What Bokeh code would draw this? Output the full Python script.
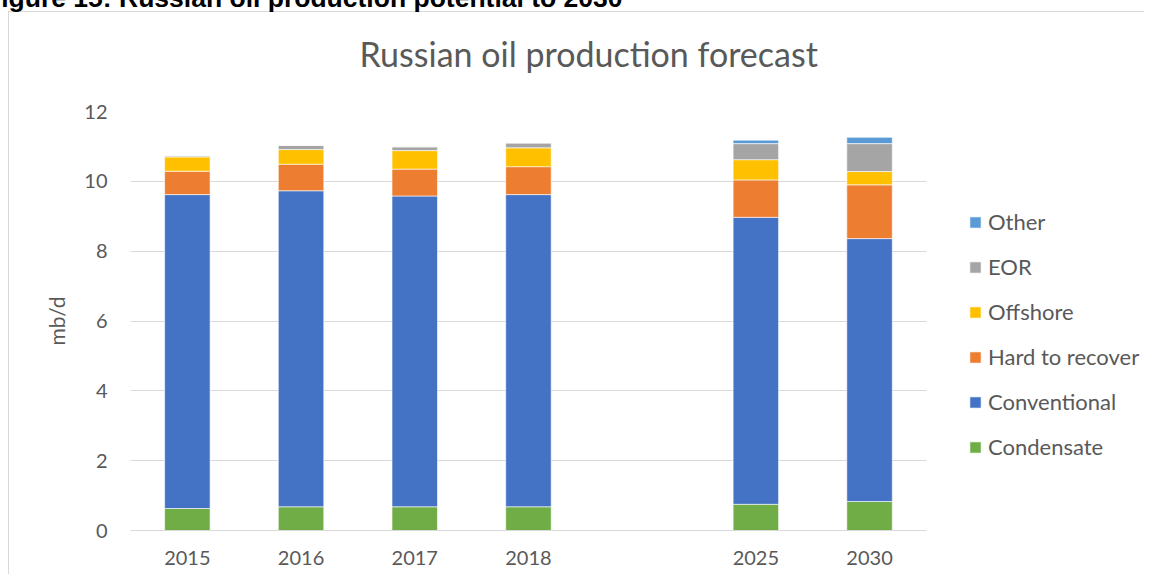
from bokeh.plotting import figure
from bokeh.models import (Legend, LegendItem, Title, ColumnDataSource,
                          Range1d, FixedTicker)
from bokeh.embed import file_html
from bokeh.resources import INLINE

# ---- data -------------------------------------------------------------
years = ["2015", "2016", "2017", "2018", "2025", "2030"]
condensate = [0.63, 0.68, 0.68, 0.68, 0.75, 0.83]
conventional = [8.99, 9.05, 8.90, 8.94, 8.22, 7.53]
hard_to_recover = [0.67, 0.76, 0.77, 0.80, 1.07, 1.54]
offshore = [0.41, 0.42, 0.53, 0.54, 0.58, 0.38]
eor = [0.03, 0.12, 0.11, 0.14, 0.46, 0.80]
other = [0.00, 0.00, 0.00, 0.00, 0.10, 0.18]
series_names = ["Condensate", "Conventional", "Hard to recover", "Offshore", "EOR", "Other"]
colors = ["#70AD47", "#4472C4", "#ED7D31", "#FFC000", "#A5A5A5", "#5B9BD5"]
y_ticks = [0, 2, 4, 6, 8, 10, 12]
# category slots on the axis, with an empty slot between 2018 and 2025
slots = years[:4] + [""] + years[4:]

FONT = "Lato"
GREY = "#595959"
LIGHT = "#d9d9d9"

xpos = [slots.index(y) for y in years]
src = ColumnDataSource(dict(x=xpos, Condensate=condensate, Conventional=conventional,
                            **{"Hard to recover": hard_to_recover}, Offshore=offshore,
                            EOR=eor, Other=other))

# layout (pixels): plot frame spans the canvas to the right so the legend fits in it
W, H = 1144, 594
FRAME_LEFT = 130
SLOT_PX = 113.7
x_lo = -0.5
x_hi_slots = len(slots) - 0.5
x_hi = x_lo + (W - FRAME_LEFT) / SLOT_PX

p = figure(x_range=Range1d(x_lo, x_hi), y_range=Range1d(0, 12),
           width=W, height=H, output_backend="svg", toolbar_location=None,
           min_border_left=FRAME_LEFT, min_border_right=0, min_border_top=128,
           min_border_bottom=44)
p.margin = (-20, 0, 0, 0)
# light chart-area border (left and top edges), drawn behind a transparent canvas
p.border_fill_color = None
p.background_fill_color = None
grad = f"linear-gradient({LIGHT}, {LIGHT})"
p.styles = {
    "background": (f"{grad} 8px 31px / 1px calc(100% - 31px) no-repeat, "
                   f"{grad} 8px 31px / calc(100% - 8px) 1px no-repeat, white"),
}

renderers = p.vbar_stack(series_names, x="x", width=0.4, source=src,
                         fill_color=colors, line_color="white", line_width=0.6)

# axes
p.yaxis.ticker = FixedTicker(ticks=y_ticks)
p.yaxis.axis_line_color = None
p.yaxis.major_tick_line_color = None
p.yaxis.minor_tick_line_color = None
p.yaxis.major_tick_in = 0
p.yaxis.major_tick_out = 0
p.yaxis.major_label_standoff = 23
p.yaxis.major_label_text_font = FONT
p.yaxis.major_label_text_font_size = "20px"
p.yaxis.major_label_text_color = GREY
p.yaxis.axis_label = "mb/d"
p.yaxis.axis_label_text_font = FONT
p.yaxis.axis_label_text_font_style = "normal"
p.yaxis.axis_label_text_font_size = "21px"
p.yaxis.axis_label_text_color = GREY
p.yaxis.axis_label_standoff = 12

p.xaxis.ticker = FixedTicker(ticks=list(range(len(slots))))
p.xaxis.major_label_overrides = {i: s for i, s in enumerate(slots)}
p.xaxis.bounds = (x_lo, x_hi_slots)
p.xaxis.axis_line_color = LIGHT
p.xaxis.major_tick_line_color = None
p.xaxis.minor_tick_line_color = None
p.xaxis.major_tick_in = 0
p.xaxis.major_tick_out = 0
p.xaxis.major_label_standoff = 20
p.xaxis.major_label_text_font = FONT
p.xaxis.major_label_text_font_size = "20px"
p.xaxis.major_label_text_color = GREY

p.xgrid.grid_line_color = None
p.ygrid.grid_line_color = LIGHT
g = p.ygrid[0]
if "cross_bounds" in g.properties():
    g.cross_bounds = (x_lo, x_hi_slots)
p.outline_line_color = None

# legend (top to bottom: reverse of stacking order)
items = [LegendItem(label=n, renderers=[r]) for n, r in zip(series_names, renderers)][::-1]
legend = Legend(items=items, location=(838, 70), border_line_color=None,
                background_fill_alpha=0, padding=0, margin=0, spacing=18,
                glyph_width=14, glyph_height=14, label_standoff=6,
                label_text_font=FONT, label_text_font_size="22px", label_text_color=GREY)
p.add_layout(legend, "center")

# document header (cut off at the top in the original) - outermost title
p.title = Title(text="Figure 15: Russian oil production potential to 2030",
                align="left", offset=-145.5, standoff=0, vertical_align="bottom",
                text_font="Liberation Sans", text_font_style="bold",
                text_font_size="26.5px", text_color="black")

# chart title, next to the plot area
p.add_layout(Title(text="Russian oil production forecast", align="left", offset=229,
                   standoff=0, vertical_align="bottom", text_font=FONT,
                   text_font_size="34px", text_font_style="normal", text_color=GREY,
                   padding=dict(left=0, right=0, top=18, bottom=38)), "above")

open("out.html", "w").write(file_html(p, INLINE))
